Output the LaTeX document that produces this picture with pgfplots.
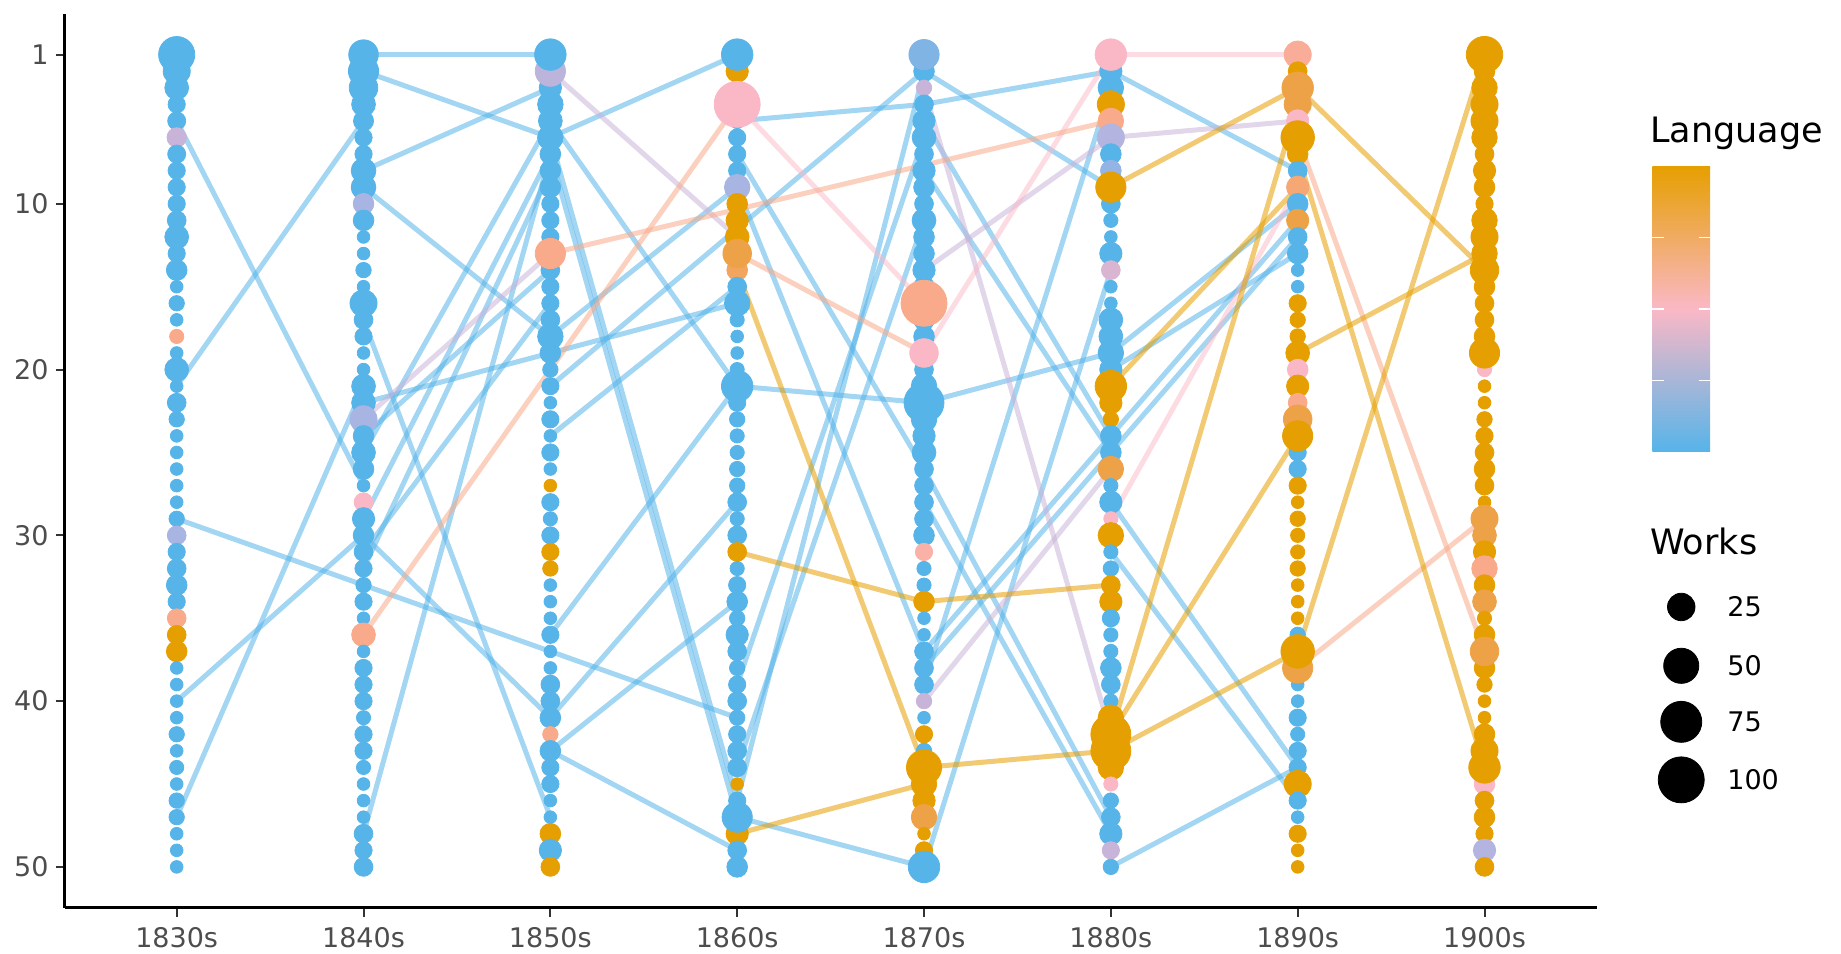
\documentclass[border=0pt]{standalone}
\usepackage{fontspec}
\setmainfont{DejaVu Sans}
\usepackage{pgfplots}
\pgfplotsset{compat=1.18}
\usepackage{pgfplotstable}

\definecolor{cB}{RGB}{86,180,233}
\definecolor{cL}{RGB}{200,180,216}
\definecolor{cP}{RGB}{250,184,198}
\definecolor{cS}{RGB}{249,170,138}
\definecolor{cO}{RGB}{230,159,0}
\definecolor{tick}{RGB}{77,77,77}

% x = decade (0 = 1830s), r = rank, w = works, c = language (0 blue ... 1 orange)
\pgfplotstableread{
x r w c
0 3 16 0
0 4 5 0
0 5 6 0
0 6 8 0.35
0 7 6 0
0 8 5 0
0 9 5 0
0 10 5 0
0 11 7 0
0 12 16 0
0 13 5 0
0 14 10 0
0 15 1 0
0 16 3 0
0 17 1 0
0 18 2 0.7
0 19 1 0
0 20 16 0
0 21 1 0
0 22 7 0
0 23 3 0
0 24 1 0
0 25 1 0
0 26 1 0
0 27 1 0
0 28 1 0
0 29 3 0
0 30 7 0.2
0 31 5 0
0 32 7 0
0 33 10 0
0 34 5 0
0 35 7 0.7
0 36 7 1
0 37 10 1
0 38 1 0
0 39 1 0
0 40 1 0
0 41 1 0
0 42 3 0
0 43 1 0
0 44 2 0
0 45 1 0
0 46 3 0
0 47 3 0
0 48 1 0
0 49 1 0
0 50 1 0
1 4 16 0
1 5 9 0
1 6 5 0
1 7 5 0
1 8 18 0
1 9 18 0
1 10 10 0.2
1 11 10 0
1 12 1 0
1 13 1 0
1 14 3 0
1 15 1 0
1 16 24 0
1 17 7 0
1 18 5 0
1 19 1 0
1 20 1 0
1 21 16 0
1 22 16 0
1 23 24 0.2
1 24 10 0
1 25 16 0
1 26 10 0
1 27 1 0
1 28 7 0.5
1 29 13 0
1 30 10 0
1 31 7 0
1 32 5 0
1 33 3 0
1 34 5 0
1 35 1 0
1 36 16 0.7
1 37 1 0
1 38 5 0
1 39 5 0
1 40 5 0
1 41 2 0
1 42 5 0
1 43 5 0
1 44 2 0
1 45 1 0
1 46 1 0
1 47 1 0
1 48 7 0
1 49 5 0
1 50 7 0
2 3 13 0
2 4 20 0
2 5 16 0
2 6 20 0
2 7 10 0
2 8 10 0
2 9 10 0
2 10 5 0
2 11 5 0
2 12 5 0
2 14 7 0
2 15 5 0
2 16 5 0
2 17 7 0
2 18 20 0
2 19 10 0
2 20 3 0
2 21 5 0
2 22 1 0
2 23 5 0
2 24 1 0
2 25 5 0
2 26 1 0
2 27 1 1
2 28 5 0
2 29 2 0
2 30 5 0
2 31 5 1
2 32 3 1
2 33 1 0
2 34 1 0
2 35 1 0
2 36 5 0
2 37 1 0
2 38 1 0
2 39 7 0
2 40 7 0
2 41 10 0
2 42 3 0.7
2 43 10 0
2 44 5 0
2 45 5 0
2 46 1 0
2 47 1 0
2 48 10 1
2 49 13 0
2 50 7 1
3 2 13 1
3 3 3 1
3 5 3 0
3 6 5 0
3 7 5 0
3 8 5 0
3 9 20 0.2
3 10 10 1
3 11 13 1
3 12 16 1
3 14 10 0.8
3 15 7 0
3 16 20 0
3 17 2 0
3 18 1 0
3 19 1 0
3 20 2 0
3 22 5 0
3 23 3 0
3 24 2 0
3 25 2 0
3 26 3 0
3 27 3 0
3 28 7 0
3 29 2 0
3 30 7 0
3 31 7 1
3 32 2 0
3 33 5 0
3 34 10 0
3 35 3 0
3 36 13 0
3 37 7 0
3 38 3 0
3 39 5 0
3 40 7 0
3 41 3 0
3 42 5 0
3 43 7 0
3 44 7 0
3 45 1 1
3 46 5 0
3 48 13 1
3 49 7 0
3 50 10 0
4 2 10 0
4 3 3 0.35
4 4 7 0
4 5 13 0
4 6 16 0
4 7 7 0
4 8 13 0
4 9 10 0
4 10 7 0
4 11 16 0
4 12 10 0
4 13 10 0
4 14 13 0
4 15 10 0
4 17 10 0
4 18 10 0
4 20 7 0
4 21 20 0
4 23 20 0
4 24 13 0
4 25 16 0
4 26 7 0
4 27 7 0
4 28 7 0
4 29 7 0
4 30 10 0
4 31 5 0.6
4 32 2 0
4 33 2 0
4 34 10 1
4 35 1 0
4 36 1 0
4 37 7 0
4 38 7 0
4 39 7 0
4 40 3 0.35
4 41 1 0
4 42 5 1
4 43 3 0
4 45 20 1
4 46 13 1
4 47 20 0.85
4 48 1 1
4 49 5 1
5 2 13 0
5 3 20 0
5 4 24 1
5 5 20 0.7
5 6 24 0.25
5 7 10 0
5 8 10 0.15
5 10 7 0
5 11 2 0
5 12 1 0
5 13 13 0
5 14 7 0.4
5 15 1 0
5 16 1 0
5 17 16 0
5 18 16 0
5 19 20 0
5 20 13 0
5 22 13 1
5 23 3 1
5 24 10 0
5 25 10 0
5 26 20 0.85
5 27 2 0
5 28 13 0
5 29 2 0.5
5 30 20 1
5 31 2 0
5 32 3 0
5 33 7 1
5 34 13 1
5 35 5 0
5 36 2 0
5 37 2 0
5 38 10 0
5 39 7 0
5 40 2 0
5 41 20 1
5 44 20 1
5 45 2 0.5
5 46 3 0
5 47 7 0
5 48 13 0
5 49 5 0.35
5 50 3 0
6 1 24 0.65
6 2 7 1
6 4 24 0.85
6 5 13 0.5
6 7 10 1
6 8 7 0
6 9 13 0.75
6 10 10 0
6 11 13 0.85
6 12 7 0
6 13 10 0
6 14 1 0
6 15 1 0
6 16 5 1
6 17 3 1
6 18 3 1
6 19 16 1
6 20 10 0.5
6 21 13 1
6 22 7 0.7
6 25 5 0
6 26 5 0
6 27 5 1
6 28 1 1
6 29 3 1
6 30 2 1
6 31 2 1
6 32 3 1
6 33 1 1
6 34 1 1
6 35 1 1
6 36 3 0
6 39 1 0
6 40 1 0
6 41 5 0
6 42 2 0
6 43 5 0
6 44 5 0
6 45 24 1
6 46 5 0
6 47 1 0
6 48 5 1
6 49 1 1
6 50 1 1
7 2 10 1
7 3 20 1
7 4 24 1
7 5 24 1
7 6 20 1
7 7 7 1
7 8 13 1
7 9 10 1
7 10 5 1
7 11 20 1
7 12 24 1
7 13 20 1
7 15 10 1
7 16 7 1
7 17 7 1
7 18 10 1
7 20 2 0.5
7 21 1 1
7 22 1 1
7 23 3 1
7 24 5 1
7 25 7 1
7 26 10 1
7 27 7 1
7 28 1 1
7 29 24 0.85
7 30 16 0.85
7 31 13 1
7 32 20 0.7
7 33 10 1
7 34 16 0.85
7 35 2 1
7 36 10 1
7 38 10 1
7 39 3 1
7 40 1 1
7 41 1 1
7 42 10 1
7 43 24 1
7 45 10 0.5
7 46 7 1
7 47 10 1
7 48 5 1
7 49 13 0.25
7 50 7 1
0 2 24 0
0 1 54 0
1 3 28 0
1 2 33 0
1 1 31 0
2 2 33 0.3
2 1 37 0
2 13 33 0.7
3 1 37 0
3 4 100 0.5
3 13 28 0.85
3 21 37 0
3 47 33 0
4 1 33 0.1
4 16 100 0.7
4 19 28 0.5
4 22 70 0
4 44 50 1
4 50 37 0
5 1 37 0.5
5 9 33 1
5 21 37 1
5 42 70 1
5 43 70 1
6 3 37 0.85
6 6 44 1
6 23 28 0.85
6 24 33 1
6 38 33 0.85
6 37 44 1
7 1 55 1
7 14 28 1
7 19 33 1
7 37 28 0.85
7 44 37 1
}\pts

\pgfplotstableread{
x y w
8.053 34.32 25
8.053 37.87 50
8.053 41.25 75
8.053 44.75 100
}\sizeleg

\begin{document}
\begin{tikzpicture}
\path[use as bounding box] (-32.3pt,-22.75pt) rectangle (888.2pt,453.75pt);
\begin{axis}[
  scale only axis, width=766pt, height=446.75pt,
  at={(0,0)}, anchor=south west,
  xmin=-0.6, xmax=7.6, ymin=-1.45, ymax=52.45, y dir=reverse,
  axis x line*=bottom, axis y line*=left,
  axis line style={line width=1.2pt, black, -},
  xtick={0,...,7},
  xticklabels={1830s,1840s,1850s,1860s,1870s,1880s,1890s,1900s},
  ytick={1,10,20,30,40,50}, yticklabels={1,10,20,30,40,50},
  tick align=outside, major tick length=4.5pt,
  tick style={line width=1pt, color=black!80},
  ticklabel style={font=\fontsize{13.5}{16}\selectfont, text=tick},
  xticklabel style={yshift=-2pt},
  clip=false,
  colormap={lang}{rgb255(0cm)=(86,180,233); rgb255(2cm)=(168,180,226); rgb255(3.5cm)=(200,180,216); rgb255(5cm)=(250,184,198); rgb255(7cm)=(249,170,138); rgb255(8.5cm)=(238,162,72); rgb255(10cm)=(230,159,0)},
  point meta min=0, point meta max=1,
  lB/.style={no markers, line width=2.5pt, draw=cB, draw opacity=0.55},
  lL/.style={no markers, line width=2.5pt, draw=cL, draw opacity=0.55},
  lP/.style={no markers, line width=2.5pt, draw=cP, draw opacity=0.5},
  lS/.style={no markers, line width=2.5pt, draw=cS, draw opacity=0.55},
  lO/.style={no markers, line width=2.5pt, draw=cO, draw opacity=0.55},
]
% ---- blue lines
\addplot[lB] coordinates {(0,5) (1,27)};
\addplot[lB] coordinates {(0,21) (1,5)};
\addplot[lB] coordinates {(0,29) (3,41)};
\addplot[lB] coordinates {(0,40) (1,30)};
\addplot[lB] coordinates {(0,47) (1,21)};
\addplot[lB] coordinates {(1,1) (2,1)};
\addplot[lB] coordinates {(1,2) (2,6)};
\addplot[lB] coordinates {(1,8) (2,3)};
\addplot[lB] coordinates {(1,9) (2,18)};
\addplot[lB] coordinates {(1,17) (2,47)};
\addplot[lB] coordinates {(1,22) (2,19)};
\addplot[lB] coordinates {(1,25) (2,5)};
\addplot[lB] coordinates {(1,29) (2,7)};
\addplot[lB] coordinates {(1,32) (2,8)};
\addplot[lB] coordinates {(1,48) (2,7)};
\addplot[lB] coordinates {(1,30) (2,41)};
\addplot[lB] coordinates {(1,24) (2,14)};
\addplot[lB] coordinates {(1,31) (2,16)};
\addplot[lB] coordinates {(2,6) (3,1)};
\addplot[lB] coordinates {(2,5) (3,21)};
\addplot[lB] coordinates {(2,6) (3,46)};
\addplot[lB] coordinates {(2,7) (3,47)};
\addplot[lB] coordinates {(2,18) (3,9)};
\addplot[lB] coordinates {(2,19) (3,16)};
\addplot[lB] coordinates {(2,24) (3,15)};
\addplot[lB] coordinates {(2,36) (3,21)};
\addplot[lB] coordinates {(2,41) (3,28)};
\addplot[lB] coordinates {(2,43) (3,34)};
\addplot[lB] coordinates {(2,43) (3,49)};
\addplot[lB] coordinates {(2,21) (4,2)};
\addplot[lB] coordinates {(3,5) (4,4)};
\addplot[lB] coordinates {(3,21) (4,22)};
\addplot[lB] coordinates {(3,47) (4,50)};
\addplot[lB] coordinates {(3,46) (4,2)};
\addplot[lB] coordinates {(3,39) (4,6)};
\addplot[lB] coordinates {(3,44) (4,11)};
\addplot[lB] coordinates {(3,7) (4,26)};
\addplot[lB] coordinates {(3,9) (4,37)};
\addplot[lB] coordinates {(4,2) (5,9)};
\addplot[lB] coordinates {(4,4) (5,2)};
\addplot[lB] coordinates {(4,5) (5,24)};
\addplot[lB] coordinates {(4,8) (5,25)};
\addplot[lB] coordinates {(4,22) (5,19)};
\addplot[lB] coordinates {(4,26) (5,47)};
\addplot[lB] coordinates {(4,28) (5,48)};
\addplot[lB] coordinates {(4,37) (5,24)};
\addplot[lB] coordinates {(4,38) (5,25)};
\addplot[lB] coordinates {(4,39) (5,3)};
\addplot[lB] coordinates {(4,50) (5,14)};
\addplot[lB] coordinates {(5,2) (6,8)};
\addplot[lB] coordinates {(5,19) (6,10)};
\addplot[lB] coordinates {(5,20) (6,13)};
\addplot[lB] coordinates {(5,24) (6,11)};
\addplot[lB] coordinates {(5,25) (6,12)};
\addplot[lB] coordinates {(5,28) (6,44)};
\addplot[lB] coordinates {(5,31) (6,46)};
\addplot[lB] coordinates {(5,50) (6,44)};
% ---- lavender lines
\addplot[lL] coordinates {(1,23) (2,13)};
\addplot[lL] coordinates {(2,2) (3,12)};
\addplot[lL] coordinates {(4,3) (5,42)};
\addplot[lL] coordinates {(4,14) (5,6) (6,5)};
\addplot[lL] coordinates {(4,40) (5,26)};
% ---- pink lines
\addplot[lP] coordinates {(3,4) (4,16)};
\addplot[lP] coordinates {(4,19) (5,1) (6,1)};
\addplot[lP] coordinates {(5,29) (6,9)};
% ---- salmon lines
\addplot[lS] coordinates {(1,36) (3,4)};
\addplot[lS] coordinates {(2,13) (5,5)};
\addplot[lS] coordinates {(3,13) (4,19)};
\addplot[lS] coordinates {(6,6) (7,37)};
\addplot[lS] coordinates {(6,38) (7,29)};
% ---- orange lines
\addplot[lO] coordinates {(3,14) (4,44) (5,43) (6,37) (7,1)};
\addplot[lO] coordinates {(3,31) (4,34) (5,33)};
\addplot[lO] coordinates {(3,48) (4,45)};
\addplot[lO] coordinates {(5,9) (6,3) (7,14)};
\addplot[lO] coordinates {(5,21) (6,9)};
\addplot[lO] coordinates {(5,42) (6,4)};
\addplot[lO] coordinates {(5,42) (6,24)};
\addplot[lO] coordinates {(6,19) (7,13)};
\addplot[lO] coordinates {(6,7) (7,44)};
% ---- points
\addplot[scatter, only marks, mark=*, scatter src=explicit,
  scatter/use mapped color={draw=mapped color, fill=mapped color},
  visualization depends on={(9+3.7*sqrt(\thisrow{w}))*0.25 \as \msize},
  scatter/@pre marker code/.append style={/tikz/mark size=\msize}]
  table[x=x, y=r, meta=c] {\pts};
% ---- legend
\node[anchor=base west, font=\fontsize{17.5}{20}\selectfont] at (axis cs:7.85,6.33) {Language};
\shade[top color=cO, bottom color=cB, middle color=cP] (axis cs:7.898,7.72) rectangle (axis cs:8.208,24.97);
\draw[white, line width=0.8pt] (axis cs:7.898,12.03) -- (axis cs:7.958,12.03);
\draw[white, line width=0.8pt] (axis cs:8.148,12.03) -- (axis cs:8.208,12.03);
\draw[white, line width=0.8pt] (axis cs:7.898,16.345) -- (axis cs:7.958,16.345);
\draw[white, line width=0.8pt] (axis cs:8.148,16.345) -- (axis cs:8.208,16.345);
\draw[white, line width=0.8pt] (axis cs:7.898,20.66) -- (axis cs:7.958,20.66);
\draw[white, line width=0.8pt] (axis cs:8.148,20.66) -- (axis cs:8.208,20.66);
\node[anchor=base west, font=\fontsize{17.5}{20}\selectfont] at (axis cs:7.85,31.18) {Works};
\addplot[scatter, only marks, mark=*, scatter src=explicit,
  scatter/use mapped color={draw=black, fill=black},
  visualization depends on={(9+3.7*sqrt(\thisrow{w}))*0.25 \as \msize},
  scatter/@pre marker code/.append style={/tikz/mark size=\msize}]
  table[x=x, y=y, meta expr=0] {\sizeleg};
\node[anchor=west, font=\fontsize{13.5}{16}\selectfont] at (axis cs:8.262,34.32) {25};
\node[anchor=west, font=\fontsize{13.5}{16}\selectfont] at (axis cs:8.262,37.87) {50};
\node[anchor=west, font=\fontsize{13.5}{16}\selectfont] at (axis cs:8.262,41.25) {75};
\node[anchor=west, font=\fontsize{13.5}{16}\selectfont] at (axis cs:8.262,44.75) {100};
\end{axis}
\end{tikzpicture}
\end{document}
